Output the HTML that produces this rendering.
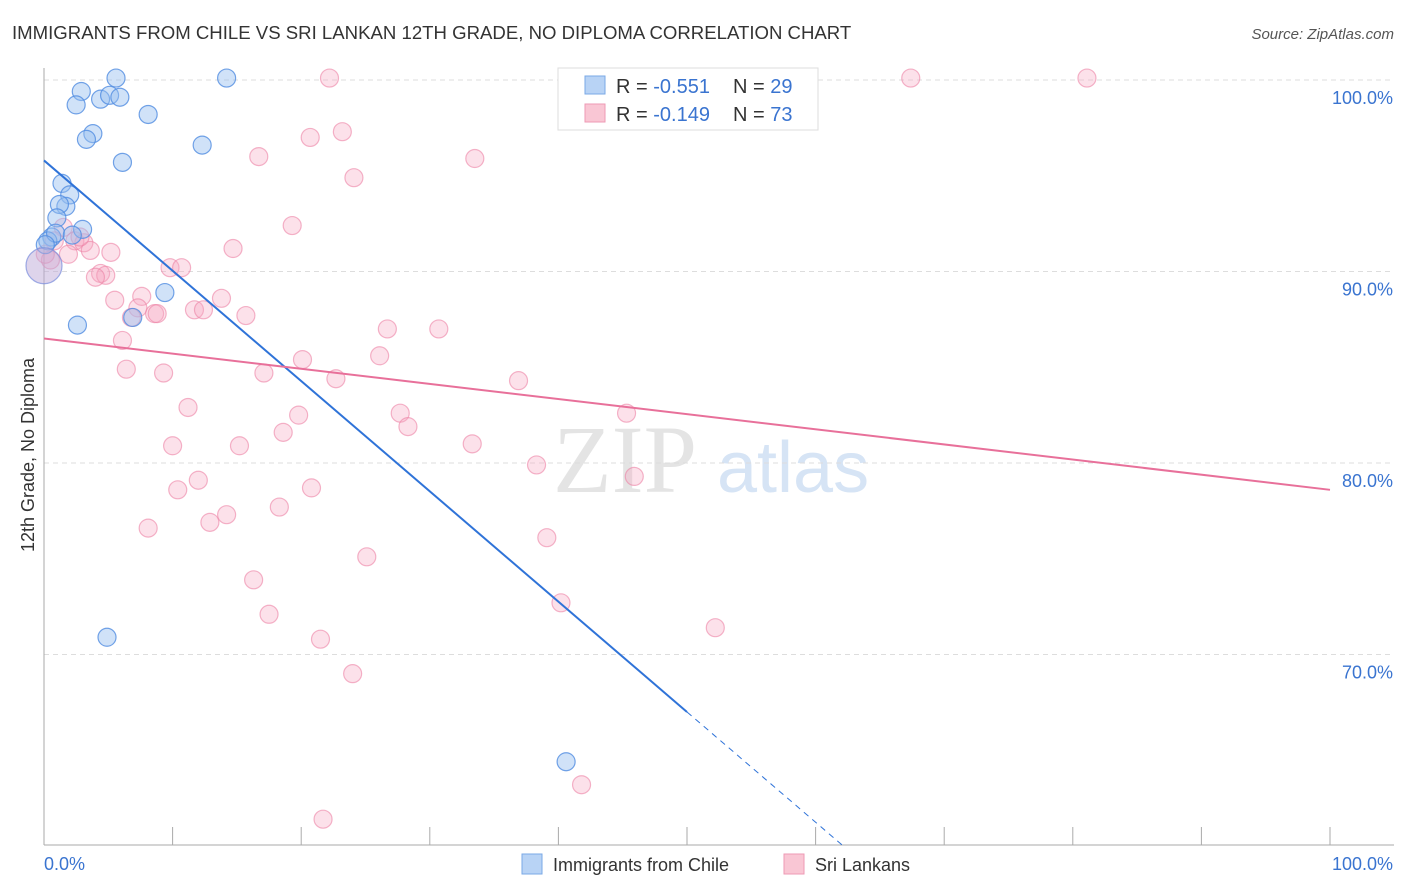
<!DOCTYPE html>
<html><head><meta charset="utf-8"><style>
body{margin:0;background:#fff;font-family:"Liberation Sans",sans-serif}
svg{display:block}
</style></head><body>
<svg id="chart" width="1406" height="892" viewBox="0 0 1406 892">
<text x="12" y="39" font-size="18.6" fill="#333">IMMIGRANTS FROM CHILE VS SRI LANKAN 12TH GRADE, NO DIPLOMA CORRELATION CHART</text>
<text x="1394" y="39" font-size="15" fill="#555" font-style="italic" text-anchor="end">Source: ZipAtlas.com</text>
<g>
<text x="553" y="492" font-size="96" font-family="Liberation Serif,serif" fill="#e4e4e4">ZIP</text>
<text x="717" y="492" font-size="72" fill="#d6e4f5">atlas</text>
</g>
<g id="grid"></g>
<g id="axes"></g>
<g id="points"></g>
<g id="lines"></g>
<text transform="translate(34,455) rotate(-90)" font-size="18" fill="#333" text-anchor="middle">12th Grade, No Diploma</text>
<g>
<rect x="558" y="68" width="260" height="62" fill="#fff" stroke="#ddd"/>
<rect x="585" y="76" width="20" height="18" fill="#b8d3f5" stroke="#7aa8e6"/>
<rect x="585" y="104" width="20" height="18" fill="#f9c6d4" stroke="#ee9ab4"/>
<text x="616" y="93" font-size="20" fill="#333">R = <tspan fill="#3a74d0">-0.551</tspan></text>
<text x="733" y="93" font-size="20" fill="#333">N = <tspan fill="#3a74d0">29</tspan></text>
<text x="616" y="121" font-size="20" fill="#333">R = <tspan fill="#3a74d0">-0.149</tspan></text>
<text x="733" y="121" font-size="20" fill="#333">N = <tspan fill="#3a74d0">73</tspan></text>
</g>
<g>
<rect x="522" y="854" width="20" height="20" fill="#b8d3f5" stroke="#7aa8e6"/>
<text x="553" y="871" font-size="18" fill="#333">Immigrants from Chile</text>
<rect x="784" y="854" width="20" height="20" fill="#f9c6d4" stroke="#ee9ab4"/>
<text x="815" y="871" font-size="18" fill="#333">Sri Lankans</text>
</g>
</svg>
<script>
const blueX=[5.6,14.2,2.9,2.5,4.4,5.1,5.9,8.1,3.8,3.3,12.3,6.1,1.4,2.0,1.7,1.2,1.0,3.0,0.6,0.3,2.6,4.9,9.4,6.9,40.6,0.9,2.2,0.1];
const blueY=[100.1,100.1,99.4,98.7,99.0,99.2,99.1,98.2,97.2,96.9,96.6,95.7,94.6,94.0,93.4,93.5,92.8,92.2,91.8,91.6,87.2,70.9,88.9,87.6,64.4,92.0,91.9,91.4];
const bigBlue=[0,90.3];
const pinkX=[22.2,67.4,81.1,23.2,20.7,16.7,33.5,24.1,19.3,14.7,1.5,2.4,3.1,3.6,5.2,1.9,4.4,4.8,4.0,9.8,10.7,5.5,7.6,7.3,8.6,8.8,11.7,12.4,13.8,15.7,6.8,26.7,30.7,6.1,20.1,26.1,6.4,9.3,17.1,22.7,36.9,11.2,19.8,27.7,28.3,18.6,45.3,10.0,15.2,33.3,38.3,45.9,12.0,10.4,20.8,14.2,18.3,12.9,8.1,39.1,25.1,16.3,17.5,40.2,52.2,21.5,24.0,41.8,21.7,0.8,0.5,0.1,2.8];
const pinkY=[100.1,100.1,100.1,97.3,97.0,96.0,95.9,94.9,92.4,91.2,92.3,91.6,91.5,91.1,91.0,90.9,89.9,89.8,89.7,90.2,90.2,88.5,88.7,88.1,87.8,87.8,88.0,88.0,88.6,87.7,87.6,87.0,87.0,86.4,85.4,85.6,84.9,84.7,84.7,84.4,84.3,82.9,82.5,82.6,81.9,81.6,82.6,80.9,80.9,81.0,79.9,79.3,79.1,78.6,78.7,77.3,77.7,76.9,76.6,76.1,75.1,73.9,72.1,72.7,71.4,70.8,69.0,63.2,61.4,91.6,90.6,90.9,91.8];
const blueTrend=[95.8,-0.576]; // intercept, slope
const pinkTrend=[86.5,-0.079];
const yTicks=[100,90,80,70];
const yTickLabels=["100.0%","90.0%","80.0%","70.0%"];
const xTicks=[0,10,20,30,40,50,60,70,80,90,100];

const NS="http://www.w3.org/2000/svg";
const sx=v=>44+v*12.86;
const sy=v=>80+(100-v)*19.15;
function mk(tag,attrs,parent){const e=document.createElementNS(NS,tag);for(const k in attrs)e.setAttribute(k,attrs[k]);document.getElementById(parent).appendChild(e);return e;}

yTicks.forEach((t,i)=>{
  const g=mk('line',{x1:44,x2:1394,y1:sy(t),y2:sy(t),stroke:'#ddd','stroke-dasharray':'5,4'},'grid');
  
  
  const l=mk('text',{x:1393,y:sy(t)+24,'font-size':18,fill:'#3a74d0','text-anchor':'end'},'axes');
  l.textContent=yTickLabels[i];
  
  
});
const ya=mk('line',{x1:44,x2:44,y1:68,y2:845,stroke:'#aaa'},'axes');


const xa=mk('line',{x1:44,x2:1394,y1:845,y2:845,stroke:'#aaa'},'axes');


xTicks.forEach(t=>{
  const k=mk('line',{x1:sx(t),x2:sx(t),y1:827,y2:845,stroke:'#aaa'},'axes');
  
  
});
const x0=mk('text',{x:44,y:870,'font-size':18,fill:'#3a74d0'},'axes');x0.textContent='0.0%';


const x1=mk('text',{x:1393,y:870,'font-size':18,fill:'#3a74d0','text-anchor':'end'},'axes');x1.textContent='100.0%';



pinkX.forEach((x,i)=>{
  const c=mk('circle',{cx:sx(x),cy:sy(pinkY[i]),r:9,fill:'rgba(247,170,195,0.35)',stroke:'rgba(236,130,165,0.6)','stroke-width':1.2},'points');
  
  
});
blueX.forEach((x,i)=>{
  const c=mk('circle',{cx:sx(x),cy:sy(blueY[i]),r:9,fill:'rgba(150,190,240,0.45)',stroke:'rgba(80,140,225,0.8)','stroke-width':1.2},'points');
  
  
});
const bb=mk('circle',{cx:sx(bigBlue[0]),cy:sy(bigBlue[1]),r:18,fill:'rgba(190,170,215,0.5)',stroke:'rgba(120,140,220,0.7)','stroke-width':1.2},'points');



const bx2=50, yMin=60.05;
const bxEnd=(yMin-blueTrend[0])/blueTrend[1];
const bl=mk('line',{x1:sx(0),y1:sy(blueTrend[0]),x2:sx(bx2),y2:sy(blueTrend[0]+blueTrend[1]*bx2),stroke:'#2f73d8','stroke-width':2},'lines');


const bd=mk('line',{x1:sx(bx2),y1:sy(blueTrend[0]+blueTrend[1]*bx2),x2:sx(bxEnd),y2:sy(yMin),stroke:'#2f73d8','stroke-width':1,'stroke-dasharray':'6,5'},'lines');


const pl=mk('line',{x1:sx(0),y1:sy(pinkTrend[0]),x2:sx(100),y2:sy(pinkTrend[0]+pinkTrend[1]*100),stroke:'#e8709a','stroke-width':2},'lines');


</script>
</body></html>
